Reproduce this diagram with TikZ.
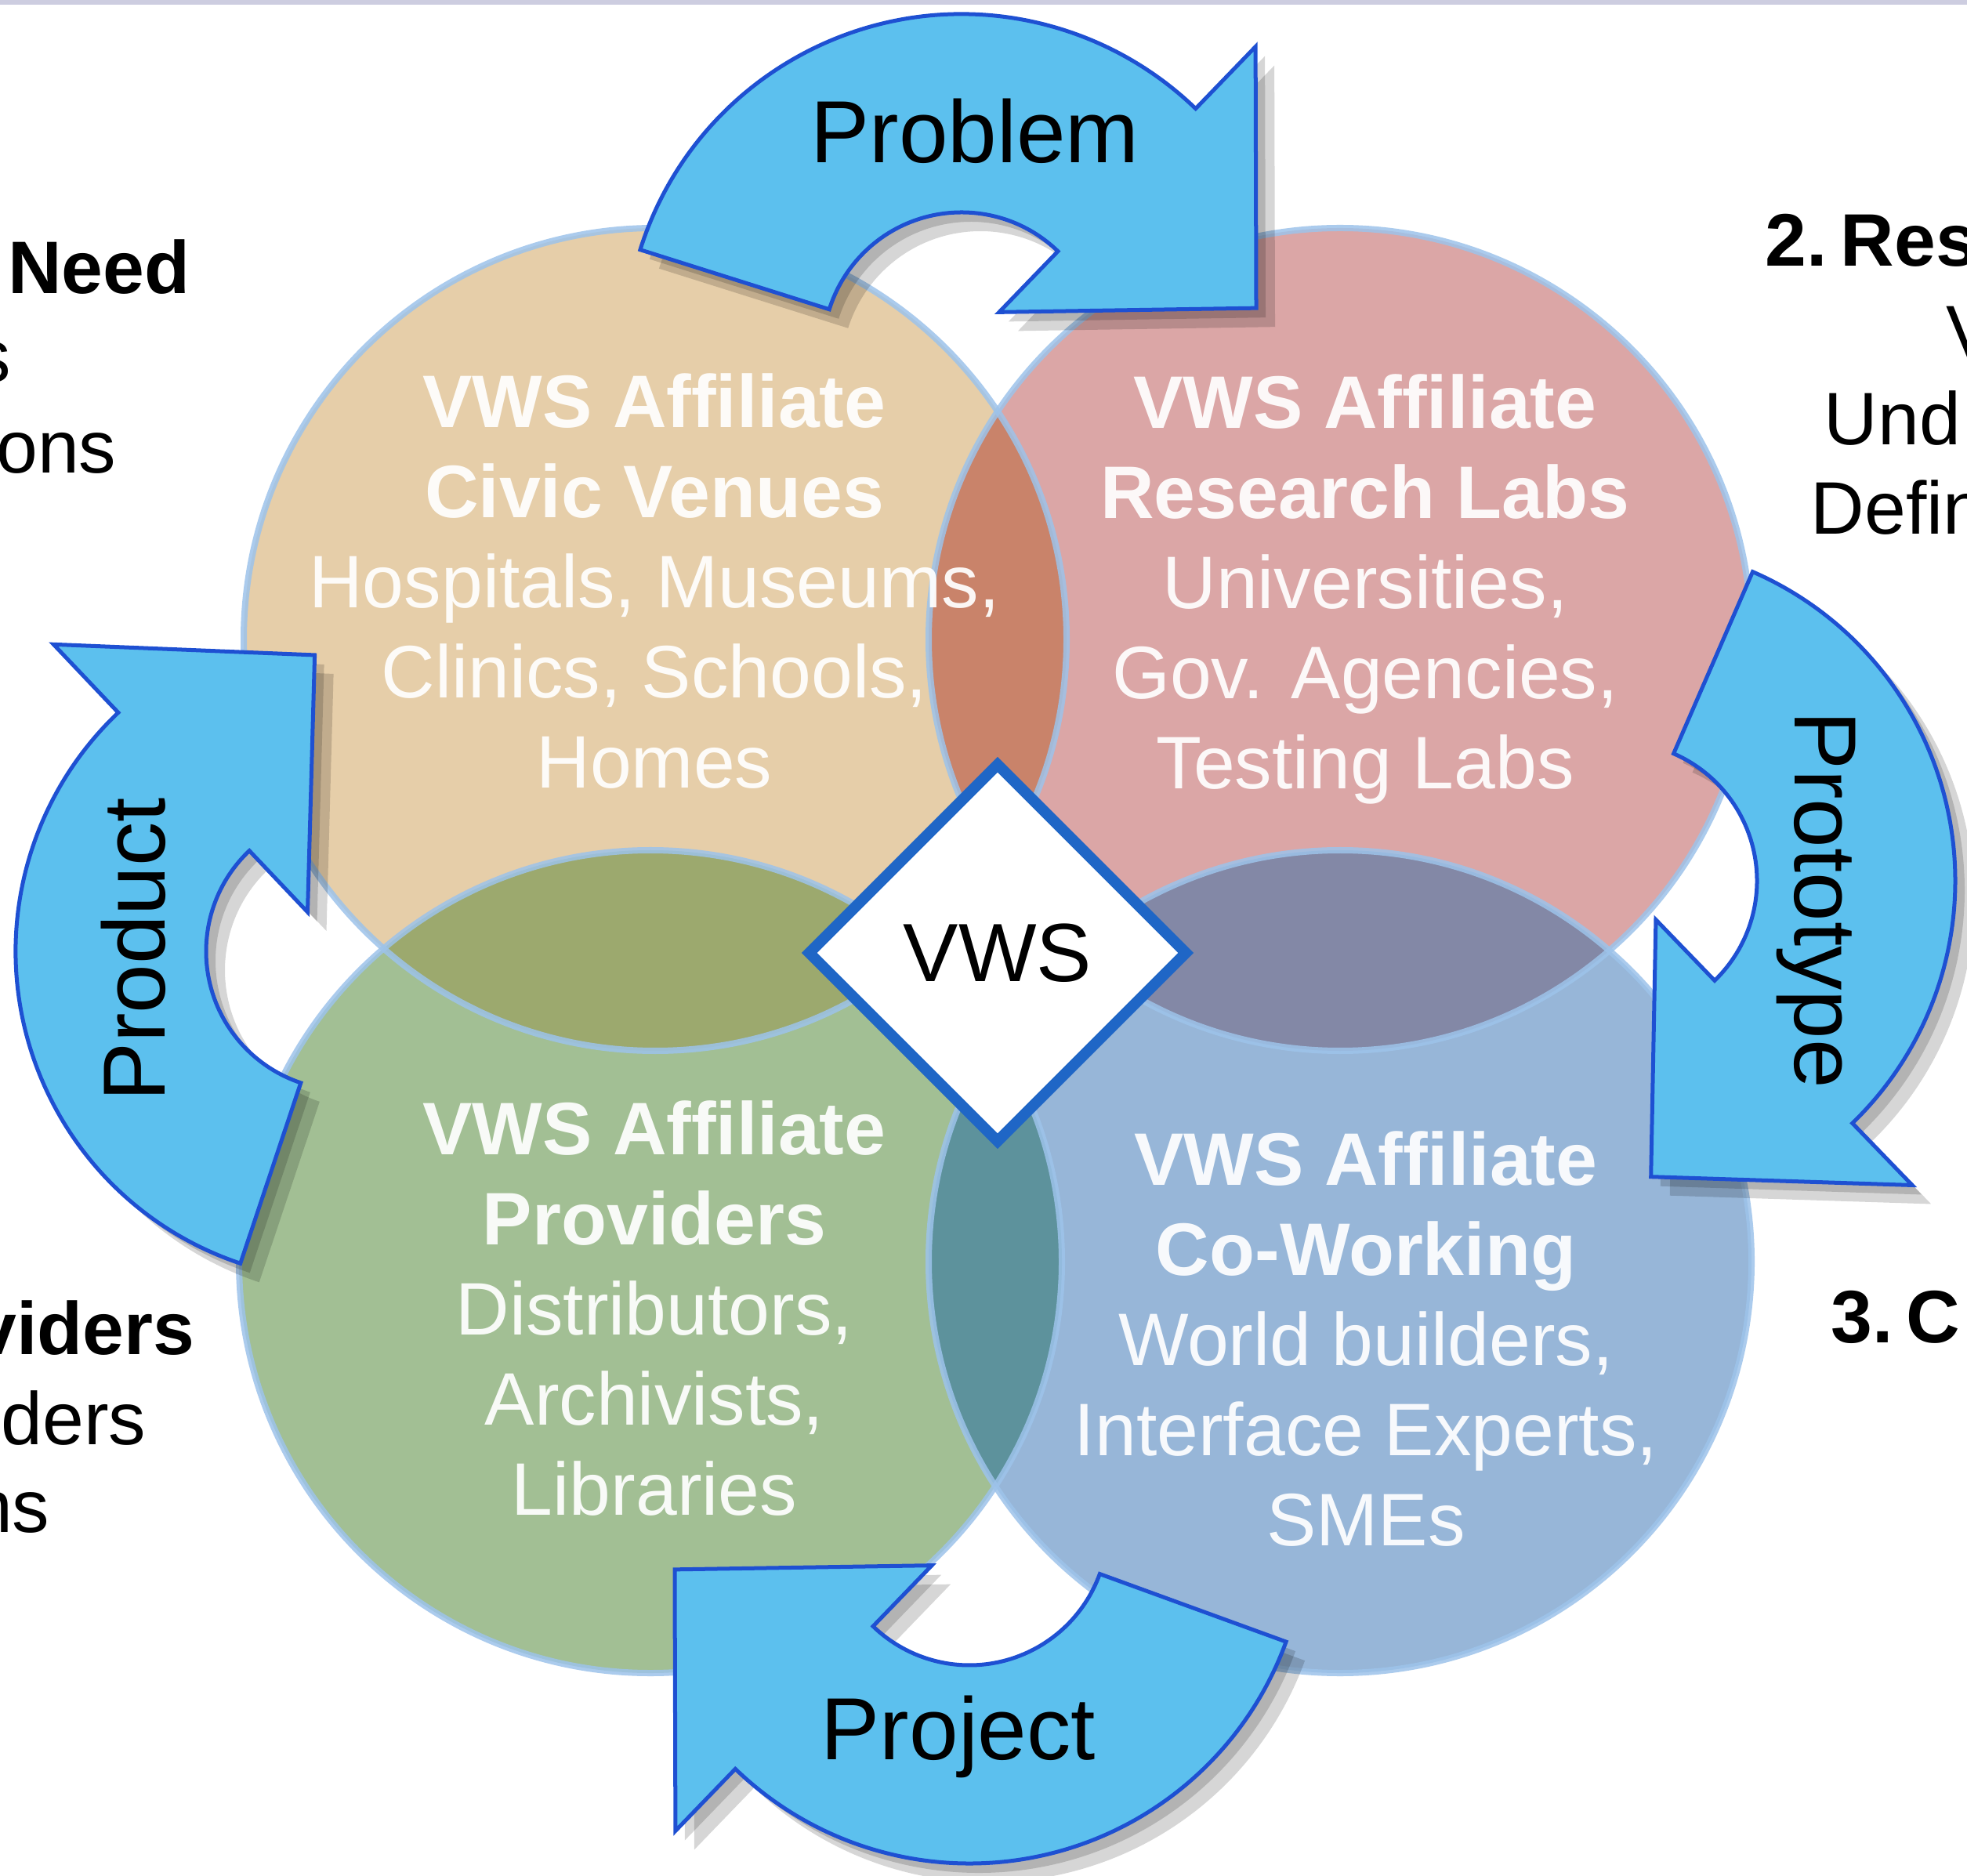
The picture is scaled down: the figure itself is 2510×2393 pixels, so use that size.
\documentclass[tikz,border=0pt]{standalone}
\usepackage{fontspec}
\setmainfont{Liberation Sans}
\usetikzlibrary{shapes.geometric,calc}

\definecolor{civictan}{HTML}{E6CEA9}
\definecolor{researchpink}{HTML}{DBA6A6}
\definecolor{providergreen}{HTML}{A2BF94}
\definecolor{coworkblue}{HTML}{97B6D8}
\definecolor{civicresearch}{HTML}{C9836A}
\definecolor{civicprovider}{HTML}{9CA96E}
\definecolor{researchcowork}{HTML}{8388A6}
\definecolor{providercowork}{HTML}{5D929C}
\definecolor{ringblue}{HTML}{9DC3EA}
\definecolor{arrowcyan}{HTML}{5CC0EE}
\definecolor{arrowedge}{HTML}{1E50D2}
\definecolor{vwsblue}{HTML}{1F66C6}
\definecolor{topline}{HTML}{CDCDE0}

% curved block arrow: [style] centre, start angle, end angle, outer radius
\newcommand{\cyclepath}[5][]{%
  \path[#1] ($(#2)+(#3:#5)$) arc[start angle=#3, end angle=#4, radius=#5]
    -- ($(#2)+(#4:540)$) -- ($(#2)+({#4-37.7}:380)$) -- ($(#2)+(#4:69)$)
    -- ($(#2)+(#4:177)$) arc[start angle=#4, end angle=#3, radius=177] -- cycle;}

\begin{document}
\begin{tikzpicture}[x=0.01cm, y=0.01cm,
    ring/.style={draw=ringblue, line width=0.08cm, draw opacity=0.85},
    arrowbody/.style={fill=arrowcyan, draw=arrowedge, line width=0.05cm},
    arrowshadow/.style={fill=black, fill opacity=0.16},
    cyclelabel/.style={inner sep=0pt, anchor=base, font=\fontsize{32pt}{38pt}\selectfont},
    sidetext/.style={inner sep=0pt, font=\fontsize{27pt}{32pt}\selectfont},
    vwsbox/.style={diamond, aspect=1, draw=vwsblue, line width=0.14cm, fill=white,
      minimum size=4.86cm, inner sep=0pt, font=\fontsize{30pt}{36pt}\selectfont}]

  \useasboundingbox (0,0) rectangle (2510,2393);
  \clip (0,0) rectangle (2510,2393);
  \fill[white] (0,0) rectangle (2510,2393);
  \fill[topline] (0,2387) rectangle (2510,2393);

  % the four affiliate circles
  \coordinate (civicC)     at (836,1577);
  \coordinate (researchC)  at (1710,1577);
  \coordinate (providersC) at (830,783);
  \coordinate (coworkC)    at (1710,783);

  \fill[civictan]      (civicC)     circle[radius=525];
  \fill[researchpink]  (researchC)  circle[radius=525];
  \fill[providergreen] (providersC) circle[radius=525];
  \fill[coworkblue]    (coworkC)    circle[radius=525];

  \begin{scope}
    \clip (civicC) circle[radius=525];
    \fill[civicresearch] (researchC)  circle[radius=525];
    \fill[civicprovider] (providersC) circle[radius=525];
  \end{scope}
  \begin{scope}
    \clip (coworkC) circle[radius=525];
    \fill[researchcowork] (researchC)  circle[radius=525];
    \fill[providercowork] (providersC) circle[radius=525];
  \end{scope}

  \draw[ring] (civicC)     circle[radius=525];
  \draw[ring] (researchC)  circle[radius=525];
  \draw[ring] (providersC) circle[radius=525];
  \draw[ring] (coworkC)    circle[radius=525];

  \begin{scope}[every node/.style={align=center, text=white, text opacity=0.93,
      inner sep=0pt, anchor=north, font=\fontsize{27pt}{32.7pt}\selectfont}]
    \node (civic) at (835,1917)
      {\textbf{VWS Affiliate}\\\textbf{Civic Venues}\\Hospitals, Museums,\\Clinics, Schools,\\Homes};
    \node (research) at (1742,1916)
      {\textbf{VWS Affiliate}\\\textbf{Research Labs}\\Universities,\\Gov. Agencies,\\Testing Labs};
    \node (providers) at (835,989)
      {\textbf{VWS Affiliate}\\\textbf{Providers}\\Distributors,\\Archivists,\\Libraries};
    \node (cowork) at (1743,950)
      {\textbf{VWS Affiliate}\\\textbf{Co-Working}\\World builders,\\Interface Experts,\\SMEs};
  \end{scope}

  \node[vwsbox] (vws) at (1273,1177) {VWS};

  % cycle arrows
  \coordinate (problemO)   at (1227,1945);
  \coordinate (prototypeO) at (2065,1269);
  \coordinate (projectO)   at (1237,445);
  \coordinate (productO)   at (440,1179);

  \begin{scope}[transform canvas={shift={(0.24cm,-0.24cm)}}]
    \cyclepath[arrowshadow]{problemO}{162.5}{46}{430}
    \cyclepath[arrowshadow]{prototypeO}{66.5}{-46}{430}
    \cyclepath[arrowshadow]{projectO}{-20}{-134}{430}
    \cyclepath[arrowshadow]{productO}{251.5}{133.5}{420}
  \end{scope}
  \begin{scope}[transform canvas={shift={(0.12cm,-0.12cm)}}]
    \cyclepath[arrowshadow]{problemO}{162.5}{46}{430}
    \cyclepath[arrowshadow]{prototypeO}{66.5}{-46}{430}
    \cyclepath[arrowshadow]{projectO}{-20}{-134}{430}
    \cyclepath[arrowshadow]{productO}{251.5}{133.5}{420}
  \end{scope}

  \cyclepath[arrowbody]{problemO}{162.5}{46}{430}
  \cyclepath[arrowbody]{prototypeO}{66.5}{-46}{430}
  \cyclepath[arrowbody]{projectO}{-20}{-134}{430}
  \cyclepath[arrowbody]{productO}{251.5}{133.5}{420}

  \node[cyclelabel] (problem) at (1244,2185) {Problem};
  \node[cyclelabel, rotate=-90] (prototype) at (2290,1245) {Prototype};
  \node[cyclelabel] (project) at (1223,148) {Project};
  \node[cyclelabel, rotate=90] (product) at (210,1181) {Product};

  % text cut by the left and right edges
  \node[sidetext, anchor=base east] (needhead)  at (243,2018) {\textbf{Need}};
  \node[sidetext, anchor=base east] (needline1) at (15,1905) {s};
  \node[sidetext, anchor=base east] (needline2) at (149,1789) {ons};
  \node[sidetext, anchor=base east] (provhead)  at (249,665) {\textbf{viders}};
  \node[sidetext, anchor=base east] (provline1) at (187,550) {ders};
  \node[sidetext, anchor=base east] (provline2) at (64,438) {ns};

  \node[sidetext, anchor=base west] (reshead)  at (2252,2053) {\textbf{2.\kern-0.1em\ Res}};
  \node[sidetext, anchor=base west] (resline1) at (2483,1936) {V};
  \node[sidetext, anchor=base west] (resline2) at (2327,1825) {Und};
  \node[sidetext, anchor=base west] (resline3) at (2310,1711) {Defin};
  \node[sidetext, anchor=base west] (cohead)   at (2336,680) {\textbf{3.\kern-0.1em\ C}};

\end{tikzpicture}
\end{document}
